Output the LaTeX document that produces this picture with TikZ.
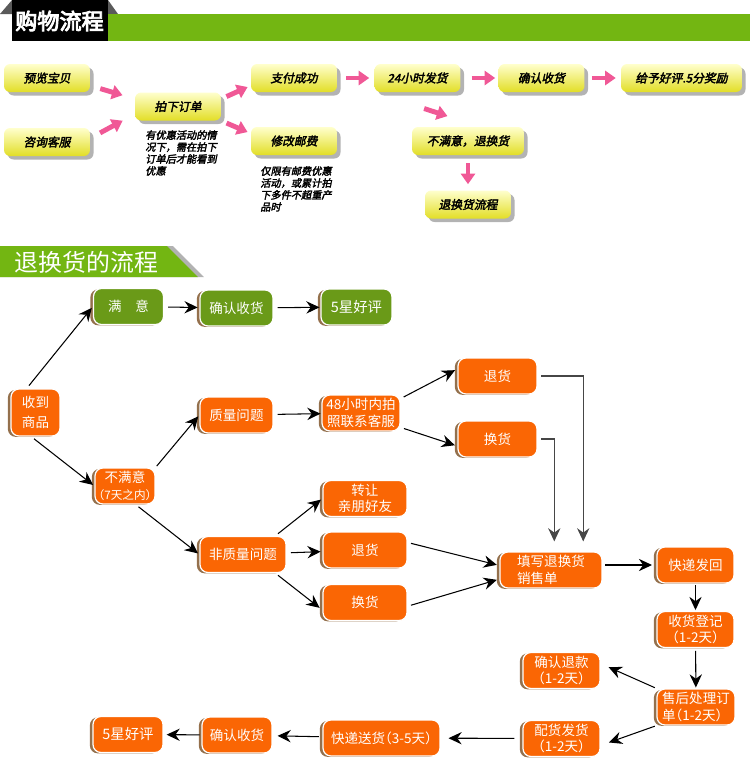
\documentclass[tikz,border=0pt]{standalone}
\usepackage{fontspec}
\usepackage{tikz}
\usetikzlibrary{arrows.meta,shadows,calc}
\newfontfamily\cjk{Noto Sans CJK SC}
\newfontfamily\cjkh{Noto Sans CJK SC}[RawFeature=+halt]
\newfontfamily\cjkbi{Noto Sans CJK SC}[FakeSlant=0.2,FakeBold=2.6]
\newfontfamily\cjkb{Noto Sans CJK SC}[FakeBold=4]
\definecolor{grnbar}{RGB}{115,182,18}
\definecolor{grnnode}{RGB}{106,154,24}
\definecolor{orng}{RGB}{250,102,4}
\definecolor{pinkarr}{RGB}{240,88,150}
\definecolor{ytop}{RGB}{255,255,205}
\definecolor{ybot}{RGB}{226,222,38}
\definecolor{edgegray}{RGB}{70,70,70}
\definecolor{eargray}{RGB}{90,90,90}
\tikzset{
  % 购物流程 (黄色按钮)
  ybox/.style={rounded corners=3.5pt, top color=ytop, bottom color=ybot,
    drop shadow={shadow xshift=2pt, shadow yshift=-2pt, opacity=0.6},
    minimum height=0.56cm, minimum width=1.72cm, inner sep=1pt,
    font=\cjkbi\fontsize{6.7}{8}\selectfont},
  note/.style={anchor=north west, align=left, inner sep=0pt,
    font=\cjkbi\fontsize{5.8}{6.8}\selectfont},
  parrow/.style={draw=pinkarr, line width=2.8pt, -{Triangle[length=6pt,width=8pt]}},
  % 退换货的流程
  obox/.style={draw=white, line width=0.7pt, fill=orng, rounded corners=4.5pt,
    text=white, align=center, minimum height=0.72cm, inner sep=1pt,
    font=\cjkh\fontsize{7.7}{9.5}\selectfont,
    drop shadow={shadow xshift=-1.8pt, shadow yshift=-0.5pt, fill=black!60!orange, opacity=0.7}},
  gbox/.style={obox, fill=grnnode},
  conn/.style={draw=black, line width=0.6pt, -{Stealth[length=7.5pt,width=7pt,inset=2.5pt]}},
  elbow/.style={conn, draw=edgegray}
}
\begin{document}
\begin{tikzpicture}[x=0.02cm, y=-0.02cm]
  \useasboundingbox (0,0) rectangle (750,779);
  % 标题栏
  \fill[eargray] (0,14) -- (12,0) -- (108,0) -- (118,14) -- cycle;
  \fill[grnbar] (108,14) rectangle (750,41);
  \fill[black] (12,0) rectangle (108,41);
  \node[text=white, font=\cjkb\fontsize{12.6}{13}\selectfont] (gouwu) at (59.5,21) {购物流程};
  \fill[gray!60] (0,246) -- (173,246) -- (204,277) -- (0,277) -- cycle;
  \fill[grnbar] (0,246) -- (167,246) -- (198,277) -- (0,277) -- cycle;
  \node[text=white, font=\cjk\fontsize{13.6}{14}\selectfont] (tuihuan) at (86.5,262) {退换货的流程};

  % 购物流程
  \node[ybox] (yulan) at (47,78) {预览宝贝};
  \node[ybox] (zixun) at (47,142) {咨询客服};
  \node[ybox] (paixia) at (178,106.5) {拍下订单};
  \node[ybox] (zhifu) at (294,78) {支付成功};
  \node[ybox] (xiugai) at (294,141) {修改邮费};
  \node[ybox] (fahuo) at (417.5,78) {24小时发货};
  \node[ybox] (shouhuo) at (541.5,78) {确认收货};
  \node[ybox, minimum width=2.42cm] (haoping) at (681.5,78) {给予好评.5分奖励};
  \node[ybox, minimum width=2.24cm] (buman) at (468,141) {不满意，退换货};
  \node[ybox] (liucheng) at (468,204.5) {退换货流程};
  \node[note] (youhui) at (145,130) {有优惠活动的情\\况下，需在拍下\\订单后才能看到\\优惠};
  \node[note] (youfei) at (260,166) {仅限有邮费优惠\\活动，或累计拍\\下多件不超重产\\品时};

  \draw[parrow, shorten <=5.9pt, shorten >=7.2pt] (yulan.-10) -- (paixia.170);
  \draw[parrow, shorten <=6.3pt, shorten >=7.8pt] (zixun.5) -- (paixia.-170);
  \draw[parrow, shorten <=3.2pt, shorten >=1.9pt] (paixia.10) -- (zhifu.-170);
  \draw[parrow, shorten <=3.2pt, shorten >=1.9pt] (paixia.south east) -- (xiugai.170);
  \draw[parrow, shorten <=5.1pt, shorten >=2.8pt] (zhifu) -- (fahuo);
  \draw[parrow, shorten <=6.2pt, shorten >=1.7pt] (fahuo) -- (shouhuo);
  \draw[parrow, shorten <=4pt, shorten >=2.8pt] (shouhuo) -- (haoping);
  \draw[parrow, shorten <=29.9pt, shorten >=46pt] (fahuo.south west) -- (buman.east);
  \draw[parrow, shorten <=4.5pt, shorten >=3.4pt] (buman) -- (liucheng);

  % 退换货的流程
  \node[obox, minimum width=0.98cm, minimum height=0.94cm,
    font=\cjkh\fontsize{7.7}{11.3}\selectfont] (shoudao) at (35.5,412.5) {收到\\商品};
  \node[gbox, minimum width=1.4cm] (manyi) at (128.5,306.5) {满\quad 意};
  \node[gbox, minimum width=1.46cm] (qrsh1) at (236.5,308) {确认收货};
  \node[gbox, minimum width=1.42cm, font=\cjkh\fontsize{8.2}{9.5}\selectfont] (hp1) at (356.5,307) {5星好评};
  \node[obox, minimum width=1.2cm] (buman2) at (125,486)
    {不满意\\{\fontsize{6.6}{8}\selectfont（7天之内）}};
  \node[obox, minimum width=1.46cm] (zhiliang) at (236.5,415) {质量问题};
  \node[obox, minimum width=1.72cm] (feizl) at (243,554.5) {非质量问题};
  \node[obox, minimum width=1.56cm] (paizhao) at (361,413) {48小时内拍\\照联系客服};
  \node[obox, minimum width=1.68cm] (zhuanrang) at (365,498.5) {转让\\亲朋好友};
  \node[obox, minimum width=1.68cm] (tuihuo2) at (365,550) {退货};
  \node[obox, minimum width=1.68cm] (huanhuo2) at (365,602.5) {换货};
  \node[obox, minimum width=1.58cm] (tuihuo1) at (497.5,376) {退货};
  \node[obox, minimum width=1.58cm] (huanhuo1) at (497.5,439) {换货};
  \node[obox, minimum width=2.04cm, align=left] (tianxie) at (551,570) {填写退换货\\销售单};
  \node[obox, minimum width=1.54cm] (kdfh) at (695.5,565) {快递发回};
  \node[obox, minimum width=1.54cm] (shdj) at (695.5,629.5) {收货登记\\（1-2天）};
  \node[obox, minimum width=1.56cm, align=left] (shouhou) at (696,707) {售后处理订\\单（1-2天）};
  \node[obox, minimum width=1.54cm] (qrtk) at (561.5,670.5) {确认退款\\（1-2天）};
  \node[obox, minimum width=1.54cm] (peihuo) at (561.5,738.5) {配货发货\\（1-2天）};
  \node[obox, minimum width=2.34cm] (kdsh) at (381.5,738) {快递送货（3-5天）};
  \node[obox, minimum width=1.4cm] (qrsh2) at (237,735) {确认收货};
  \node[obox, minimum width=1.4cm, font=\cjkh\fontsize{8.2}{9.5}\selectfont] (hp2) at (128,734.5) {5星好评};

  \draw[conn, shorten <=2pt, shorten >=1pt] (shoudao.110) -- (manyi.west);
  \draw[conn, shorten <=2pt, shorten >=1pt] (shoudao.-100) -- (buman2.west);
  \draw[conn, shorten <=2.3pt, shorten >=1pt] (manyi) -- (qrsh1);
  \draw[conn, shorten <=2.3pt, shorten >=0.5pt] (qrsh1) -- (hp1);
  \draw[conn, shorten <=1pt, shorten >=1pt] (buman2.north east) -- (zhiliang.west);
  \draw[conn, shorten <=2pt, shorten >=1pt] (buman2.-60) -- (feizl.west);
  \draw[conn, shorten <=2.3pt, shorten >=0.5pt] (zhiliang) -- (paizhao);
  \draw[conn, shorten <=2pt, shorten >=1.5pt] (paizhao.20) -- (tuihuo1.170);
  \draw[conn, shorten <=2pt, shorten >=1.5pt] (paizhao.-20) -- (huanhuo1.-170);
  \draw[conn, shorten <=2pt, shorten >=1pt] (feizl.30) -- (zhuanrang.west);
  \draw[conn, shorten <=2.5pt, shorten >=1pt] (feizl) -- (tuihuo2);
  \draw[conn, shorten <=2pt, shorten >=2pt] (feizl.-30) -- (huanhuo2.-170);
  \draw[conn, shorten <=2pt, shorten >=1.5pt] (tuihuo2.10) -- (tianxie.175);
  \draw[conn, shorten <=2pt, shorten >=1.5pt] (huanhuo2.-5) -- (tianxie.-170);
  \draw[elbow, shorten <=2pt, shorten >=5.7pt] (tuihuo1.east) -| (tianxie.30);
  \draw[elbow, shorten <=2pt, shorten >=5.7pt] (huanhuo1.east) -| (tianxie.80);
  \draw[conn, shorten <=1.5pt, shorten >=2.5pt] (tianxie.east |- kdfh) -- (kdfh.west);
  \draw[conn, shorten <=1pt, shorten >=0.5pt] (kdfh) -- (shdj);
  \draw[conn, shorten <=1.5pt, shorten >=0.5pt] (shdj) -- (shouhou);
  \draw[conn, shorten <=1pt, shorten >=5pt] (shouhou.north west) -- (qrtk.10);
  \draw[conn, shorten <=1pt, shorten >=5pt] (shouhou.south west) -- (peihuo.-10);
  \draw[conn, shorten <=4.5pt, shorten >=4.5pt] (peihuo) -- (kdsh);
  \draw[conn, shorten <=2pt, shorten >=2.8pt] (kdsh) -- (qrsh2);
  \draw[conn, shorten <=1pt, shorten >=1.7pt] (qrsh2) -- (hp2);
\end{tikzpicture}
\end{document}
